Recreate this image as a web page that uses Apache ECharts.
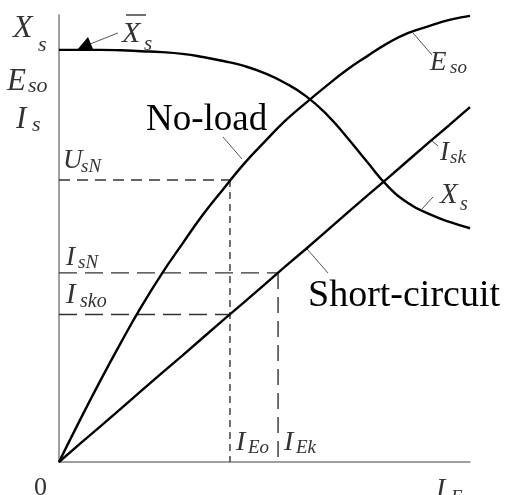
<!DOCTYPE html>
<html>
<head>
<meta charset="utf-8">
<script src="https://cdn.jsdelivr.net/npm/echarts@6/dist/echarts.min.js"></script>
<style>
  html, body { margin: 0; padding: 0; background: #fff; }
  #chart { width: 505px; height: 495px; }
</style>
</head>
<body>
<div id="chart"></div>
<script>
// excitation current I_E, relative units 0..100
const ieValues = [0, 5, 10, 15, 20, 25, 30, 35, 40, 45, 50, 55, 60, 65, 70, 75, 80, 85, 90, 95, 100]
// no-load curve E_so
const esoValues = [0, 9.2, 18.1, 26.6, 34.7, 42.1, 48.8, 55.3, 61.1, 66.7, 71.6,
  76.3, 80.3, 84.1, 87.7, 90.8, 93.7, 96.0, 97.5, 98.9, 99.8]
// short-circuit curve I_sk
const iskValues = [0, 4.0, 7.9, 11.9, 15.9, 19.9, 23.8, 27.8, 31.8, 35.7, 39.7,
  43.7, 47.6, 51.6, 55.6, 59.6, 63.5, 67.5, 71.5, 75.4, 79.4]
// synchronous reactance X_s
const xsValues = [92.2, 92.2, 92.2, 92.1, 91.9, 91.7, 91.3, 90.6, 89.7, 88.6, 87.0,
  84.8, 81.9, 77.9, 72.7, 67.1, 61.7, 57.9, 55.5, 53.7, 52.3]

// operating points
const ieMarks = { IEo: 41.6, IEk: 53.3 }
const levelMarks = { UsN: 63.1, IsN: 42.3, Isko: 33.0 }

const SERIF = 'Liberation Serif, Times New Roman, serif'
const INK = '#000'
const LABEL = '#333'

function toPairs(ys) {
  return ieValues.map((x, i) => [x, ys[i]])
}

function curve(name, ys, smooth) {
  return {
    name: name,
    type: 'line',
    data: toPairs(ys),
    smooth: smooth,
    showSymbol: false,
    z: 3,
    lineStyle: { color: INK, width: 2.4 }
  }
}

function dashed(points, dash) {
  return {
    type: 'line',
    data: points,
    showSymbol: false,
    z: 2,
    lineStyle: { color: '#333', width: 1.4, type: dash }
  }
}

// text placed by its baseline (zrender draws from the top of the box)
function txt(x, base, text, font, size, fill) {
  return {
    type: 'text', x: x, y: base - 0.75 * size,
    style: { text: text, font: font + ' ' + size + 'px ' + SERIF, fill: fill }
  }
}

// italic symbol with subscript, positions in pixels
function sym(x, y, main, sub, sx, sy, size, subSize) {
  return [
    txt(x, y, main, 'italic', size, LABEL),
    txt(sx, sy, sub, 'italic', subSize, LABEL)
  ]
}

function leader(x1, y1, x2, y2) {
  return {
    type: 'line',
    shape: { x1: x1, y1: y1, x2: x2, y2: y2 },
    style: { stroke: '#555', lineWidth: 1 }
  }
}

const chart = echarts.init(document.getElementById('chart'))

const { IEo, IEk } = ieMarks
const { UsN, IsN, Isko } = levelMarks

const graphics = [].concat(
  // left axis labels
  sym(13, 37, 'X', 's', 38, 51, 32, 22),
  sym(7, 90, 'E', 'so', 28, 92, 31, 22),
  sym(16, 128, 'I', 's', 32, 131, 31, 22),
  // X-bar label with arrow
  sym(122, 42, 'X', 's', 144, 50, 30, 21),
  [
    { type: 'line', shape: { x1: 126, y1: 15, x2: 146, y2: 15 }, style: { stroke: LABEL, lineWidth: 1.4 } },
    leader(90, 44, 118, 33),
    { type: 'polygon', shape: { points: [[77, 50], [93, 49], [88, 37]] }, style: { fill: INK } }
  ],
  // level labels
  sym(63, 168, 'U', 'sN', 81, 172, 27, 19),
  sym(66, 265, 'I', 'sN', 78, 268, 27, 19),
  sym(66, 303, 'I', 'sko', 80, 307, 29, 20),
  // bottom labels
  sym(236, 450, 'I', 'Eo', 248, 453, 28, 19),
  sym(284, 450, 'I', 'Ek', 296, 453, 28, 19),
  sym(436, 497, 'I', 'E', 451, 503, 28, 19),
  [txt(34, 495, '0', 'normal', 26, LABEL)],
  // right curve labels
  sym(430, 70, 'E', 'so', 450, 73, 27, 19),
  sym(440, 160, 'I', 'sk', 450, 163, 27, 19),
  sym(440, 203, 'X', 's', 460, 210, 29, 20),
  [
    leader(413, 33, 432, 55),
    leader(431, 140, 438, 146),
    leader(422, 209, 433, 197),
    leader(242, 159, 223, 137),
    leader(307, 249, 328, 273),
    txt(146, 130, 'No-load', 'normal', 37, INK),
    txt(308, 306, 'Short-circuit', 'normal', 38, INK)
  ]
)

chart.setOption({
  animation: false,
  backgroundColor: '#fff',
  grid: { left: 59, right: 35, top: 15, bottom: 33 },
  xAxis: {
    type: 'value',
    min: 0,
    max: 100,
    axisLine: { show: true, lineStyle: { color: '#808080', width: 1.5 } },
    axisTick: { show: false },
    axisLabel: { show: false },
    splitLine: { show: false }
  },
  yAxis: {
    type: 'value',
    min: 0,
    max: 100,
    axisLine: { show: true, lineStyle: { color: '#808080', width: 1.5 } },
    axisTick: { show: false },
    axisLabel: { show: false },
    splitLine: { show: false }
  },
  series: [
    dashed([[0, UsN], [IEo, UsN]], [11, 7]),
    dashed([[IEo, UsN], [IEo, 0]], [7, 5]),
    dashed([[0, IsN], [IEk, IsN]], [18, 8]),
    dashed([[IEk, IsN], [IEk, 0]], [16, 8]),
    dashed([[0, Isko], [IEo, Isko]], [18, 8]),
    curve('Eso', esoValues, 0.5),
    curve('Isk', iskValues, false),
    curve('Xs', xsValues, 0.5)
  ],
  graphic: graphics
})
</script>
</body>
</html>
